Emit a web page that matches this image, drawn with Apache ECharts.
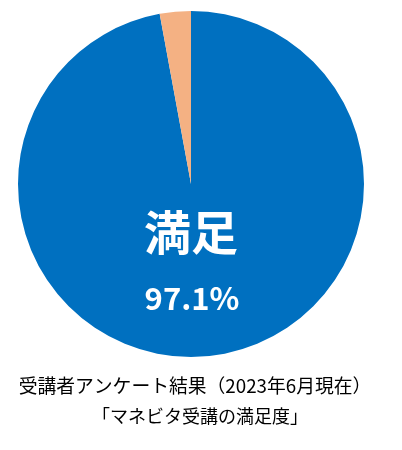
<!DOCTYPE html>
<html><head><meta charset="utf-8">
<script src="https://cdn.jsdelivr.net/npm/echarts@6/dist/echarts.min.js"></script>
<style>html,body{margin:0;padding:0;background:#fff}#c{width:402px;height:450px}</style>
</head><body><div id="c"></div>
<script>
const categories = ['満足', 'その他'];
const values = [97.1, 2.9];
const colors = ['#0070C0', '#F4B183'];
const captionLines = ['受講者アンケート結果（2023年6月現在）', '「マネビタ受講の満足度」'];

const chart = echarts.init(document.getElementById('c'), null, {renderer: 'canvas'});
const font = '"Noto Sans CJK JP", "Noto Sans", sans-serif';
chart.setOption({
  animation: false,
  series: [{
    type: 'pie',
    center: [191, 184],
    radius: 173,
    startAngle: 90,
    clockwise: true,
    silent: true,
    z: 1,
    label: {show: false},
    labelLine: {show: false},
    itemStyle: {borderWidth: 0},
    data: categories.map((c, i) => ({name: c, value: values[i], itemStyle: {color: colors[i]}}))
  }],
  graphic: {elements: [
    {type: 'text', z: 100, zlevel: 1, x: 191, y: 232, style: {text: categories[0], font: 'bold 47px ' + font, fill: '#fff', align: 'center', verticalAlign: 'middle'}},
    {type: 'text', z: 100, zlevel: 1, x: 192, y: 298, style: {text: values[0].toFixed(1) + '%', font: 'bold 31px ' + font, fill: '#fff', align: 'center', verticalAlign: 'middle'}},
    {type: 'text', z: 100, zlevel: 1, x: 195, y: 386, style: {text: captionLines[0], font: '18.8px ' + font, fill: '#000', align: 'center', verticalAlign: 'middle'}},
    {type: 'text', z: 100, zlevel: 1, x: 200, y: 416, style: {text: captionLines[1], font: '18px ' + font, fill: '#000', align: 'center', verticalAlign: 'middle'}}
  ]}
});
</script></body></html>
